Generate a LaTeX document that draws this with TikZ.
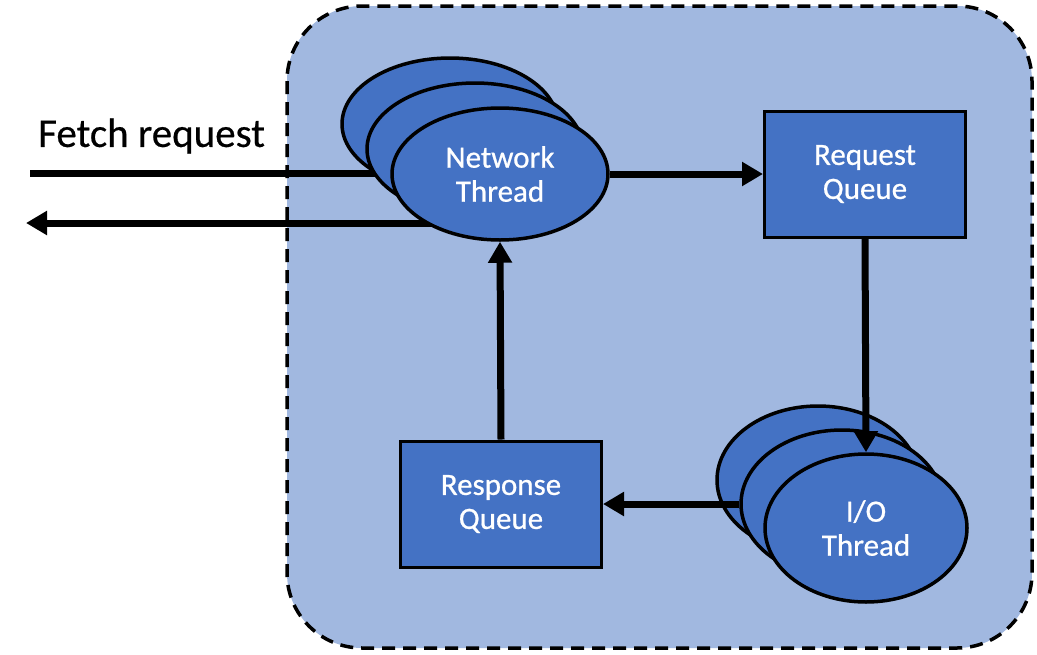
\documentclass[tikz,border=0pt]{standalone}
\usepackage{fontspec}
\setmainfont{Carlito}
\newfontfamily\nodefont[FakeBold=0.7]{Carlito}
\newfontfamily\labelfont[FakeBold=0.5]{Carlito}
\usetikzlibrary{shapes.geometric,arrows.meta}
\definecolor{outerfill}{RGB}{161,184,224}
\definecolor{nodefill}{RGB}{68,114,196}
\tikzset{
  thread/.style={ellipse, draw=black, line width=3.5pt, fill=nodefill, inner sep=0pt,
    minimum width=216pt, minimum height=132pt, text=white, align=center,
    font=\nodefont\fontsize{31}{34}\selectfont},
  iothread/.style={thread, minimum width=202pt, minimum height=148pt},
  queuebox/.style={rectangle, draw=black, line width=3pt, fill=nodefill, inner sep=0pt,
    minimum width=201pt, minimum height=126pt, text=white, align=center,
    font=\nodefont\fontsize{31}{34}\selectfont},
  arr/.style={line width=7pt, -{Triangle[length=21pt,width=23pt]}},
  plain/.style={line width=7pt}
}
\begin{document}
\begin{tikzpicture}[x=1pt,y=-1pt]
\useasboundingbox (0,0) rectangle (1037,654);
% outer container
\draw[fill=outerfill, line width=3.5pt, dash pattern=on 13pt off 8pt, rounded corners=75pt]
  (287,6) rectangle (1032,648);
% label
\node[anchor=west, font=\labelfont\fontsize{41}{46}\selectfont, inner sep=0pt] (fetch) at (38,136) {Fetch request};
% endpoints
\coordinate (fin) at (30,173);
\coordinate (fout) at (26,223);
\coordinate (netin) at (450,173);
\coordinate (netout) at (450,223);
% lines entering / leaving behind the thread stack
\draw[plain] (fin) -- (netin);
\draw[arr] (netout) -- (fout);
% network thread stack
\node[thread] (net1) at (450,124) {};
\node[thread] (net2) at (475,149) {};
\node[thread] (net3) at (500,174) {Network\\Thread};
% queues
\node[queuebox] (req) at (865,174) {Request\\Queue};
\node[queuebox] (resp) at (501,504) {Response\\Queue};
% io thread stack
\node[iothread] (io1) at (818,480) {};
\node[iothread] (io2) at (842,504) {};
\draw[arr] (io2.west) -- (resp.east);
\node[iothread] (io3) at (866,528) {I/O\\Thread};
% connectors
\draw[arr] (net3.east) -- (req.west);
\draw[arr] (req.south) -- (io3.north);
\draw[arr] (resp.north) -- (net3.south);
\end{tikzpicture}
\end{document}
